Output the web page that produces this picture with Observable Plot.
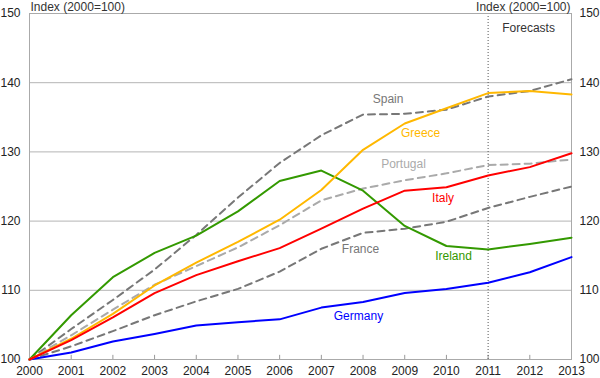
<!DOCTYPE html>
<html>
<head>
<meta charset="utf-8">
<script src="https://cdn.jsdelivr.net/npm/d3@7"></script>
<script src="https://cdn.jsdelivr.net/npm/@observablehq/plot@0.6"></script>
<style>
  html, body { margin: 0; padding: 0; background: #fff; }
  #chart { width: 600px; height: 378px; }
  #chart svg { font-family: 'Liberation Sans', Arial, sans-serif; }
  #chart svg text { font-size: 12px; }
</style>
</head>
<body>
<div id="chart"></div>
<script>
const years = [2000, 2001, 2002, 2003, 2004, 2005, 2006, 2007, 2008, 2009, 2010, 2011, 2012, 2013];
const germany  = [100, 101.0, 102.6, 103.7, 104.9, 105.4, 105.8, 107.5, 108.3, 109.6, 110.2, 111.1, 112.6, 114.8];
const ireland  = [100, 106.4, 111.9, 115.4, 117.9, 121.4, 125.8, 127.3, 124.4, 119.3, 116.4, 115.9, 116.7, 117.6];
const greece   = [100, 103.0, 106.6, 110.7, 114.0, 117.0, 120.2, 124.5, 130.3, 134.1, 136.3, 138.5, 138.8, 138.3];
const italy    = [100, 102.8, 106.1, 109.6, 112.2, 114.2, 116.1, 118.9, 121.8, 124.4, 124.9, 126.6, 127.8, 129.8];
const spain    = [100, 104.4, 108.6, 113.0, 118.0, 123.4, 128.4, 132.4, 135.4, 135.5, 136.1, 138.0, 138.8, 140.5];
const portugal = [100, 103.5, 107.2, 110.8, 113.5, 116.2, 119.4, 123.0, 124.7, 125.9, 126.9, 128.1, 128.3, 128.9];
const france   = [100, 101.9, 104.1, 106.4, 108.4, 110.2, 112.7, 116.0, 118.3, 118.9, 119.9, 121.9, 123.5, 125.0];

const yTicks = [100, 110, 120, 130, 140, 150];
const gridValues = [110, 120, 130, 140];
const forecastStart = 2011;

const dashedSeries = [
  {name: "Spain", values: spain, color: "#777777"},
  {name: "Portugal", values: portugal, color: "#aaaaaa"},
  {name: "France", values: france, color: "#777777"}
];
const solidSeries = [
  {name: "Germany", values: germany, color: "#0000ff"},
  {name: "Ireland", values: ireland, color: "#339900"},
  {name: "Greece", values: greece, color: "#ffb800"},
  {name: "Italy", values: italy, color: "#ff0000"}
];

const labelNames  = ["Spain", "Greece", "Portugal", "Italy", "France", "Ireland", "Germany"];
const labelX      = [2008.6, 2009.38, 2008.97, 2009.92, 2007.94, 2010.17, 2007.89];
const labelY      = [137.6, 132.7, 128.2, 123.3, 115.9, 114.9, 106.3];
const labelColors = ["#777777", "#ffb800", "#aaaaaa", "#ff0000", "#777777", "#339900", "#0000ff"];
const labelBold   = [false, true, false, true, false, true, true];

const toRows = s => years.map((y, i) => ({name: s.name, year: y, value: s.values[i], color: s.color}));
const dashedRows = dashedSeries.flatMap(toRows);
const solidRows = solidSeries.flatMap(toRows);
const labels = labelNames.map((n, i) => ({name: n, x: labelX[i], y: labelY[i], color: labelColors[i], bold: labelBold[i]}));

const chart = Plot.plot({
  width: 600,
  height: 378,
  marginLeft: 29,
  marginRight: 29,
  marginTop: 13,
  marginBottom: 19,
  style: {fontFamily: "'Liberation Sans', Arial, sans-serif", fontSize: "12px", color: "#222", background: "#fff"},
  x: {domain: [2000, 2013]},
  y: {domain: [100, 150]},
  marks: [
    Plot.ruleY(gridValues, {stroke: "#b4b4b4", strokeWidth: 1}),
    Plot.ruleX(years, {x: d => d, y1: 100, y2: 100.6, stroke: "#999", strokeWidth: 1}),
    Plot.ruleX([forecastStart], {stroke: "#555", strokeWidth: 1, strokeDasharray: "1,2"}),
    Plot.frame({stroke: "#aaaaaa", strokeWidth: 1}),
    Plot.axisX({ticks: years, tickFormat: d => String(d), tickSize: 0, tickPadding: 7, label: null, fontSize: 12}),
    Plot.axisY({anchor: "left", ticks: yTicks, tickSize: 0, tickPadding: 9, label: null, fontSize: 12}),
    Plot.axisY({anchor: "right", ticks: yTicks, tickSize: 0, tickPadding: 8, label: null, fontSize: 12}),
    Plot.lineY(dashedRows, {x: "year", y: "value", z: "name", stroke: "color", strokeWidth: 2, strokeDasharray: "7,5"}),
    Plot.lineY(solidRows, {x: "year", y: "value", z: "name", stroke: "color", strokeWidth: 2}),
    Plot.text(labels, {x: "x", y: "y", text: "name", fill: "color", fontWeight: d => d.bold ? "bold" : "normal", fontSize: 12}),
    Plot.text(["Forecasts"], {x: 2011.97, y: 147.9, text: d => d, fill: "#333", fontSize: 12}),
    Plot.text(["Index (2000=100)"], {frameAnchor: "top-left", dx: 1, dy: -3, text: d => d, fill: "#333", fontSize: 12, lineAnchor: "bottom"}),
    Plot.text(["Index (2000=100)"], {frameAnchor: "top-right", dx: -1, dy: -3, text: d => d, fill: "#333", fontSize: 12, lineAnchor: "bottom"})
  ]
});
document.getElementById("chart").appendChild(chart);
</script>
</body>
</html>
